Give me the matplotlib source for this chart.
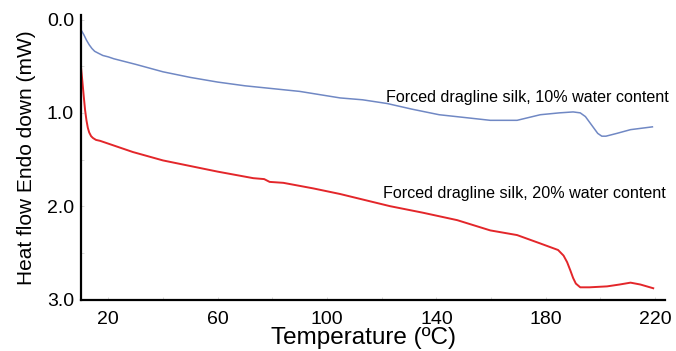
import matplotlib
matplotlib.use('Agg')
import matplotlib.pyplot as plt
import numpy as np

plt.rcParams['font.family'] = ['Liberation Sans', 'DejaVu Sans']

# DSC traces (temperature in degC, heat flow in mW)
temp_10 = [10, 11, 12, 13, 14, 15, 16.3, 18, 20, 22, 30, 40, 50, 60, 70, 80, 90,
           104.8, 113, 122, 131, 141, 153.5, 159.7, 169.5, 178, 185, 190, 192.6,
           194.5, 196, 198, 199, 200.5, 202, 206, 211, 219]
flow_10 = [0.11, 0.16, 0.22, 0.27, 0.31, 0.34, 0.36, 0.385, 0.40, 0.42, 0.48, 0.56,
           0.62, 0.67, 0.71, 0.74, 0.77, 0.84, 0.86, 0.90, 0.96, 1.02, 1.06, 1.08,
           1.08, 1.02, 1.00, 0.99, 1.00, 1.04, 1.10, 1.18, 1.22, 1.25, 1.25, 1.22,
           1.18, 1.15]

temp_20 = [10, 10.5, 11, 11.5, 12, 12.5, 13, 13.7, 14.4, 15.5, 17, 20, 29, 40, 50,
           60, 73, 77, 79, 84, 95, 104.8, 123, 135, 147.6, 159.7, 169.5, 178, 184.5,
           186.5, 187.8, 189, 190, 191, 192.6, 196, 202.4, 207, 211, 214.6, 219.3]
flow_20 = [0.51, 0.66, 0.82, 0.97, 1.08, 1.16, 1.21, 1.25, 1.27, 1.29, 1.30, 1.33,
           1.42, 1.51, 1.57, 1.63, 1.70, 1.71, 1.74, 1.75, 1.81, 1.87, 2.00, 2.07,
           2.15, 2.26, 2.31, 2.40, 2.47, 2.53, 2.60, 2.69, 2.77, 2.83, 2.87, 2.87,
           2.86, 2.84, 2.82, 2.84, 2.88]

label_10 = 'Forced dragline silk, 10% water content'
label_20 = 'Forced dragline silk, 20% water content'
xticks = [20, 60, 100, 140, 180, 220]
yticks = [0.0, 1.0, 2.0, 3.0]

fig = plt.figure(figsize=(6.76, 3.51), dpi=100)
ax = fig.add_axes([0.1198, 0.1453, 0.8639, 0.8117])

ax.plot(temp_10, flow_10, color='#7088c4', lw=1.1)
ax.plot(temp_20, flow_20, color='#e3262a', lw=1.4)

ax.text(121.6, 0.84, label_10, fontsize=11.6, va='center', ha='left', clip_on=False)
ax.text(120.5, 1.86, label_20, fontsize=11.6, va='center', ha='left', clip_on=False)

ax.set_xlim(10, 223.6)
ax.set_ylim(3.006, -0.048)
ax.set_xticks(xticks)
ax.set_yticks(yticks)
ax.set_yticklabels(['%.1f' % v for v in yticks])
ax.set_yticks([0.5, 1.5, 2.5], minor=True)
ax.set_xticks([40, 80, 120, 160, 200], minor=True)
ax.tick_params(which='both', direction='in', length=2, width=0.5, color='#cccccc',
               labelsize=14)
ax.tick_params(axis='x', pad=8)
ax.tick_params(axis='y', pad=5)

for s in ['top', 'right']:
    ax.spines[s].set_visible(False)
for s in ['left', 'bottom']:
    ax.spines[s].set_linewidth(1.6)

ax.set_xlabel('Temperature (ºC)', fontsize=17.5, labelpad=0)
ax.xaxis.set_label_coords(0.483, -0.095)
ax.set_ylabel('Heat flow Endo down (mW)', fontsize=15, labelpad=8)

fig.savefig('out.png', dpi=100)
